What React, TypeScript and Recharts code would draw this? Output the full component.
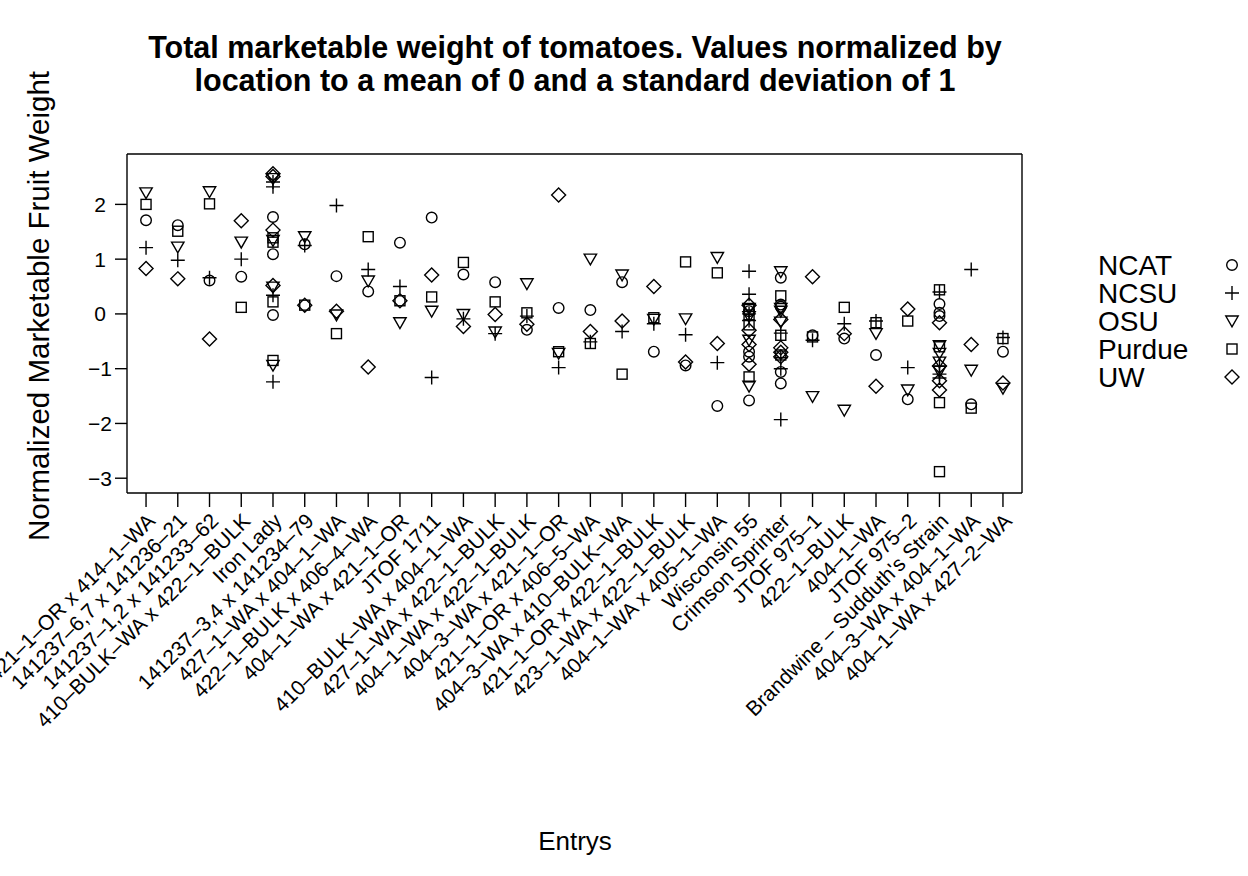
import React from 'react';
import { ScatterChart, Scatter, XAxis, YAxis, Legend } from 'recharts';

const FONT = '"Liberation Sans", Arial, Helvetica, sans-serif';

const categories = [
  '421–1–OR x 414–1–WA',
  '141237–6,7 x 141236–21',
  '141237–1,2 x 141233–62',
  '410–BULK–WA x 422–1–BULK',
  'Iron Lady',
  '141237–3,4 x 141234–79',
  '427–1–WA x 404–1–WA',
  '422–1–BULK x 406–4–WA',
  '404–1–WA x 421–1–OR',
  'JTOF 1711',
  '410–BULK–WA x 404–1–WA',
  '427–1–WA x 422–1–BULK',
  '404–1–WA x 422–1–BULK',
  '404–3–WA x 421–1–OR',
  '421–1–OR x 406–5–WA',
  '404–3–WA x 410–BULK–WA',
  '421–1–OR x 422–1–BULK',
  '423–1–WA x 422–1–BULK',
  '404–1–WA x 405–1–WA',
  'Wisconsin 55',
  'Crimson Sprinter',
  'JTOF 975–1',
  '422–1–BULK',
  '404–1–WA',
  'JTOF 975–2',
  'Brandwine – Sudduth\'s Strain',
  '404–3–WA x 404–1–WA',
  '404–1–WA x 427–2–WA',
];

const sites = ['NCAT', 'NCSU', 'OSU', 'Purdue', 'UW'];

// values per category (one list per entry)
const ncatValues: number[][] = [
  [1.71], [1.62], [0.61], [0.68], [1.77, 1.09, -0.02], [1.27], [0.69], [0.41], [1.30], [1.76],
  [0.72], [0.58], [-0.29], [0.11], [0.07], [0.58], [-0.69], [-0.94], [-1.68],
  [0.05, -0.69, -0.78, -1.58], [0.66, 0.17, 0.13, -1.06, -1.27],
  [-0.39], [-0.45], [-0.75], [-1.56], [0.18, 0.02, -0.04], [-1.65], [-0.69],
];
const ncsuValues: number[][] = [
  [1.21], [0.98], [0.66], [1.00], [2.41, 2.32, 0.34, -1.24], [1.25], [1.98], [0.81], [0.50], [-1.16],
  [-0.09], [-0.36], [-0.04], [-0.98], [-0.51], [-0.32], [-0.18], [-0.38], [-0.89],
  [0.78, 0.36, 0.0, -0.12], [-0.35, -0.80, -1.00, -1.93],
  [-0.48], [-0.18], [-0.13], [-0.98], [0.40, -0.95, -1.10, -1.17], [0.81], [-0.43],
];
const osuValues: number[][] = [
  [2.21], [1.22], [2.23], [1.31], [2.47, 1.34, 0.49, -0.94], [1.41], [-0.02], [0.60], [-0.16], [0.05],
  [-0.01], [-0.33], [0.55], [-0.72], [1.00], [0.71], [-0.10], [-0.09], [1.03],
  [0.10, -0.05, -0.48, -1.32], [0.77, 0.10, 0.05, -0.15],
  [-1.51], [-1.76], [-0.36], [-1.39], [-0.58, -0.72, -0.88, -1.05], [-1.03], [-1.36],
];
const purdueValues: number[][] = [
  [2.00], [1.51], [2.01], [0.12], [1.39, 1.31, 0.22, -0.85], [0.16], [-0.36], [1.41], [0.24], [0.31],
  [0.94], [0.22], [0.02], [-0.69], [-0.54], [-1.10], [-0.07], [0.95], [0.75],
  [0.08, -0.02, -0.20, -1.15], [0.33, -0.39, -0.75],
  [-0.42], [0.12], [-0.16], [-0.13], [0.44, -0.60, -1.62, -2.88], [-1.72], [-0.45],
];
const uwValues: number[][] = [
  [0.83], [0.64], [-0.46], [1.70], [2.56, 2.51, 1.53, 0.52], [0.16], [0.05], [-0.97], [0.24], [0.71],
  [-0.23], [-0.01], [-0.19], [2.17], [-0.32], [-0.13], [0.50], [-0.88], [-0.54],
  [0.16, -0.30, -0.56, -0.92], [-0.10, -0.62, -0.70, -0.78],
  [0.68], [-0.36], [-1.32], [0.09], [-0.16, -0.95, -1.22, -1.39], [-0.56], [-1.26],
];

const yTicks = [-3, -2, -1, 0, 1, 2];
const xTicks = categories.map((_, i) => i + 1);

const toPoints = (values: number[][]) =>
  values.flatMap((vs, i) => vs.map((v) => ({ x: i + 1, y: v })));

const seriesData = [ncatValues, ncsuValues, osuValues, purdueValues, uwValues].map(toPoints);

const SW = 1.4;

function drawSymbol(kind: number, cx: number, cy: number) {
  const common = { fill: 'none', stroke: '#000', strokeWidth: SW };
  switch (kind) {
    case 0:
      return <circle {...common} cx={cx} cy={cy} r={5.3} />;
    case 1:
      return <path {...common} d={`M${cx - 7},${cy}H${cx + 7}M${cx},${cy - 7}V${cy + 7}`} />;
    case 2:
      return <polygon {...common} points={`${cx - 6.2},${cy - 5} ${cx + 6.2},${cy - 5} ${cx},${cy + 5.8}`} />;
    case 3:
      return <rect {...common} x={cx - 5} y={cy - 5} width={10} height={10} />;
    default:
      return <polygon {...common} points={`${cx},${cy - 7} ${cx + 7},${cy} ${cx},${cy + 7} ${cx - 7},${cy}`} />;
  }
}

const makeShape = (kind: number) => (props: any) => {
  const { cx, cy } = props;
  if (cx == null || cy == null) return <g />;
  return drawSymbol(kind, cx, cy);
};

const fmt = (v: number) => (v < 0 ? `\u2212${Math.abs(v)}` : `${v}`);

const XTick = (props: any) => {
  const { x, y, payload } = props;
  const label = categories[payload.value - 1] ?? '';
  const ax = x + 5;
  const ay = y + 10;
  return (
    <text
      x={ax}
      y={ay}
      transform={`rotate(-45 ${ax} ${ay})`}
      textAnchor="end"
      dominantBaseline="central"
      fontSize={21}
      fontFamily={FONT}
      fill="#000"
    >
      {label}
    </text>
  );
};

const YTick = (props: any) => {
  const { x, y, payload } = props;
  return (
    <text x={x - 13} y={y} textAnchor="middle" dominantBaseline="central" fontSize={21} fontFamily={FONT} fill="#000">
      {fmt(payload.value)}
    </text>
  );
};

const LegendContent = () => (
  <svg width={160} height={150} style={{ overflow: 'visible' }}>
    {sites.map((s, i) => (
      <g key={s}>
        <text x={4} y={14 + 28 * i + 10} fontSize={28} fontFamily={FONT} fill="#000">
          {s}
        </text>
        {drawSymbol(i, 138, 14 + 28 * i)}
      </g>
    ))}
  </svg>
);

const axisStroke = { stroke: '#000', strokeWidth: 1.4 };

export default function App() {
  return (
    <div style={{ position: 'absolute', left: 0, top: 0, width: 1248, height: 876, background: '#fff' }}>
      <ScatterChart
        width={1248}
        height={876}
        margin={{ top: 134, right: 206, bottom: 183, left: 67 }}
      >
        <XAxis
          xAxisId="b"
          type="number"
          dataKey="x"
          domain={[0.4, 28.6]}
          ticks={xTicks}
          allowDataOverflow
          orientation="bottom"
          height={200}
          tickSize={14}
          tickMargin={0}
          interval={0}
          tick={<XTick />}
          axisLine={axisStroke}
          tickLine={axisStroke}
        />
        <XAxis
          xAxisId="t"
          type="number"
          dataKey="x"
          domain={[0.4, 28.6]}
          ticks={xTicks}
          allowDataOverflow
          orientation="top"
          height={20}
          tickSize={12}
          interval={0}
          tick={false}
          axisLine={axisStroke}
          tickLine={axisStroke}
        />
        <YAxis
          yAxisId="l"
          type="number"
          dataKey="y"
          domain={[-3.27, 2.92]}
          ticks={yTicks}
          allowDataOverflow
          orientation="left"
          width={60}
          tickSize={12}
          interval={0}
          tick={<YTick />}
          axisLine={axisStroke}
          tickLine={axisStroke}
        />
        <YAxis
          yAxisId="r"
          type="number"
          dataKey="y"
          domain={[-3.27, 2.92]}
          ticks={yTicks}
          allowDataOverflow
          orientation="right"
          width={20}
          tickSize={12}
          interval={0}
          tick={false}
          axisLine={axisStroke}
          tickLine={axisStroke}
        />
        {sites.map((s, i) => (
          <Scatter
            key={s}
            name={s}
            data={seriesData[i]}
            xAxisId="b"
            yAxisId="l"
            shape={makeShape(i)}
            isAnimationActive={false}
          />
        ))}
        <Legend
          layout="vertical"
          align="center"
          verticalAlign="middle"
          content={<LegendContent />}
          wrapperStyle={{ position: 'absolute', left: 1094, top: 251, width: 160, height: 150 }}
        />
      </ScatterChart>
      <svg
        width={1248}
        height={876}
        style={{ position: 'absolute', left: 0, top: 0, pointerEvents: 'none' }}
      >
        <text x={575} y={58} textAnchor="middle" fontSize={30.5} fontWeight="bold" fontFamily={FONT} fill="#000">
          Total marketable weight of tomatoes. Values normalized by
        </text>
        <text x={575} y={91} textAnchor="middle" fontSize={30.5} fontWeight="bold" fontFamily={FONT} fill="#000">
          location to a mean of 0 and a standard deviation of 1
        </text>
        <text
          x={49}
          y={306}
          transform="rotate(-90 49 306)"
          textAnchor="middle"
          fontSize={29.5}
          fontFamily={FONT}
          fill="#000"
        >
          Normalized Marketable Fruit Weight
        </text>
        <text x={575} y={850} textAnchor="middle" fontSize={26} fontFamily={FONT} fill="#000">
          Entrys
        </text>
      </svg>
    </div>
  );
}
